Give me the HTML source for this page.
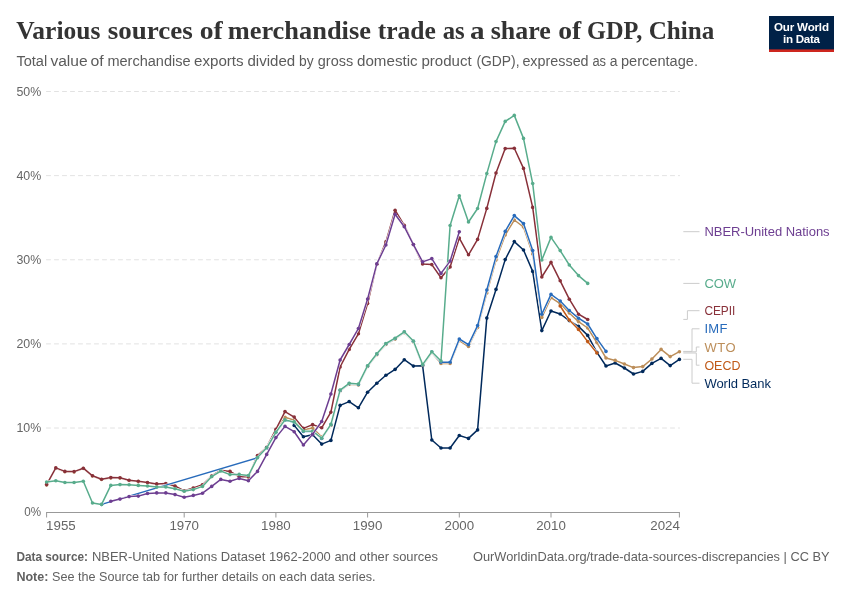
<!DOCTYPE html>
<html><head><meta charset="utf-8"><title>Various sources of merchandise trade as a share of GDP, China</title>
<style>
html,body{margin:0;padding:0;background:#fff;}
svg{display:block;font-family:"Liberation Sans",sans-serif;}
.title{font-family:"Liberation Serif",serif;font-weight:bold;font-size:25px;fill:#333;}
.sub{font-size:14px;fill:#5b5b5b;}
.ax text{font-size:13.2px;fill:#666;}
.foot{font-size:13px;fill:#616161;}
.foot .b{font-weight:bold;}
.leg text{font-size:13px;}
</style></head><body>
<svg width="850" height="600" viewBox="0 0 850 600">
<rect width="850" height="600" fill="#fff"/>
<text class="title" y="39.3"><tspan x="16.3" textLength="84.0" lengthAdjust="spacingAndGlyphs">Various</tspan> <tspan x="107.7" textLength="85.0" lengthAdjust="spacingAndGlyphs">sources</tspan> <tspan x="199.7" textLength="23.0" lengthAdjust="spacingAndGlyphs">of</tspan> <tspan x="227.7" textLength="143.2" lengthAdjust="spacingAndGlyphs">merchandise</tspan> <tspan x="377.7" textLength="58.2" lengthAdjust="spacingAndGlyphs">trade</tspan> <tspan x="442.7" textLength="22.0" lengthAdjust="spacingAndGlyphs">as</tspan> <tspan x="470.1" textLength="14.6" lengthAdjust="spacingAndGlyphs">a</tspan> <tspan x="490.7" textLength="60.0" lengthAdjust="spacingAndGlyphs">share</tspan> <tspan x="558.3" textLength="23.0" lengthAdjust="spacingAndGlyphs">of</tspan> <tspan x="587.1" textLength="55.2" lengthAdjust="spacingAndGlyphs">GDP,</tspan> <tspan x="648.7" textLength="65.6" lengthAdjust="spacingAndGlyphs">China</tspan></text>
<text class="sub" y="65.7"><tspan x="16.4" textLength="30.8" lengthAdjust="spacingAndGlyphs">Total</tspan> <tspan x="50.4" textLength="37.2" lengthAdjust="spacingAndGlyphs">value</tspan> <tspan x="90.4" textLength="13.2" lengthAdjust="spacingAndGlyphs">of</tspan> <tspan x="107.4" textLength="83.2" lengthAdjust="spacingAndGlyphs">merchandise</tspan> <tspan x="194.0" textLength="49.6" lengthAdjust="spacingAndGlyphs">exports</tspan> <tspan x="247.4" textLength="47.8" lengthAdjust="spacingAndGlyphs">divided</tspan> <tspan x="299.0" textLength="14.6" lengthAdjust="spacingAndGlyphs">by</tspan> <tspan x="317.8" textLength="35.4" lengthAdjust="spacingAndGlyphs">gross</tspan> <tspan x="357.0" textLength="60.6" lengthAdjust="spacingAndGlyphs">domestic</tspan> <tspan x="421.4" textLength="50.2" lengthAdjust="spacingAndGlyphs">product</tspan> <tspan x="476.4" textLength="43.2" lengthAdjust="spacingAndGlyphs">(GDP),</tspan> <tspan x="522.4" textLength="66.2" lengthAdjust="spacingAndGlyphs">expressed</tspan> <tspan x="592.4" textLength="13.6" lengthAdjust="spacingAndGlyphs">as</tspan> <tspan x="609.8" textLength="7.8" lengthAdjust="spacingAndGlyphs">a</tspan> <tspan x="621.0" textLength="77.0" lengthAdjust="spacingAndGlyphs">percentage.</tspan></text>
<g id="logo"><rect x="769" y="16" width="65" height="36" fill="#002147"/><rect x="769" y="49.4" width="65" height="2.6" fill="#ce261e"/>
<text x="801.5" y="30.6" text-anchor="middle" font-size="11.6" font-weight="bold" fill="#fff" textLength="55" lengthAdjust="spacing">Our World</text>
<text x="801.5" y="42.7" text-anchor="middle" font-size="11.6" font-weight="bold" fill="#fff" textLength="37" lengthAdjust="spacing">in Data</text></g>
<g stroke="#dfdfdf" stroke-width="0.9" stroke-dasharray="4.8,3.2" fill="none"><line x1="46.1" x2="679.9" y1="428.00" y2="428.00"/><line x1="46.1" x2="679.9" y1="343.87" y2="343.87"/><line x1="46.1" x2="679.9" y1="259.75" y2="259.75"/><line x1="46.1" x2="679.9" y1="175.62" y2="175.62"/><line x1="46.1" x2="679.9" y1="91.50" y2="91.50"/></g>
<g stroke="#999" stroke-width="1" fill="none"><line x1="46.1" x2="679.9" y1="512.5" y2="512.5"/><line x1="46.6" x2="46.6" y1="512.5" y2="517.5"/><line x1="184.2" x2="184.2" y1="512.5" y2="517.5"/><line x1="275.9" x2="275.9" y1="512.5" y2="517.5"/><line x1="367.6" x2="367.6" y1="512.5" y2="517.5"/><line x1="459.3" x2="459.3" y1="512.5" y2="517.5"/><line x1="551.0" x2="551.0" y1="512.5" y2="517.5"/><line x1="679.4" x2="679.4" y1="512.5" y2="517.5"/></g>
<g class="ax"><text x="24.2" y="516.4" textLength="16.8" lengthAdjust="spacingAndGlyphs">0%</text><text x="16.4" y="432.3" textLength="24.8" lengthAdjust="spacingAndGlyphs">10%</text><text x="16.4" y="348.2" textLength="24.8" lengthAdjust="spacingAndGlyphs">20%</text><text x="16.4" y="264.0" textLength="24.8" lengthAdjust="spacingAndGlyphs">30%</text><text x="16.4" y="179.9" textLength="24.8" lengthAdjust="spacingAndGlyphs">40%</text><text x="16.4" y="95.8" textLength="24.8" lengthAdjust="spacingAndGlyphs">50%</text><text x="46.1" y="530.4" text-anchor="start" textLength="29.6" lengthAdjust="spacingAndGlyphs">1955</text><text x="184.2" y="530.4" text-anchor="middle" textLength="29.6" lengthAdjust="spacingAndGlyphs">1970</text><text x="275.9" y="530.4" text-anchor="middle" textLength="29.6" lengthAdjust="spacingAndGlyphs">1980</text><text x="367.6" y="530.4" text-anchor="middle" textLength="29.6" lengthAdjust="spacingAndGlyphs">1990</text><text x="459.3" y="530.4" text-anchor="middle" textLength="29.6" lengthAdjust="spacingAndGlyphs">2000</text><text x="551.0" y="530.4" text-anchor="middle" textLength="29.6" lengthAdjust="spacingAndGlyphs">2010</text><text x="679.9" y="530.4" text-anchor="end" textLength="29.6" lengthAdjust="spacingAndGlyphs">2024</text></g>
<g id="lines">
<g fill="#00295B" stroke="none"><polyline fill="none" stroke="#fff" stroke-width="2.5" stroke-linejoin="round" stroke-linecap="round" points="294.2,425.4 303.4,436.8 312.6,434.8 321.7,444.1 330.9,440.4 340.1,405.4 349.2,401.6 358.4,407.8 367.6,392.2 376.8,383.2 385.9,375.3 395.1,369.4 404.3,359.7 413.4,366.1 422.6,365.7 431.8,440.0 441.0,448.0 450.1,448.0 459.3,435.5 468.5,438.4 477.6,429.9 486.8,318.1 496.0,289.4 505.2,259.6 514.3,241.6 523.5,250.0 532.7,271.4 541.8,330.6 551.0,311.0 560.2,314.0 569.3,320.6 578.5,326.4 587.7,335.4 596.9,352.4 606.0,366.0 615.2,363.0 624.4,368.0 633.5,374.0 642.7,371.4 651.9,363.4 661.1,358.4 670.2,365.6 679.4,359.4"/><polyline fill="none" stroke="#00295B" stroke-width="1.5" stroke-linejoin="round" stroke-linecap="round" points="294.2,425.4 303.4,436.8 312.6,434.8 321.7,444.1 330.9,440.4 340.1,405.4 349.2,401.6 358.4,407.8 367.6,392.2 376.8,383.2 385.9,375.3 395.1,369.4 404.3,359.7 413.4,366.1 422.6,365.7 431.8,440.0 441.0,448.0 450.1,448.0 459.3,435.5 468.5,438.4 477.6,429.9 486.8,318.1 496.0,289.4 505.2,259.6 514.3,241.6 523.5,250.0 532.7,271.4 541.8,330.6 551.0,311.0 560.2,314.0 569.3,320.6 578.5,326.4 587.7,335.4 596.9,352.4 606.0,366.0 615.2,363.0 624.4,368.0 633.5,374.0 642.7,371.4 651.9,363.4 661.1,358.4 670.2,365.6 679.4,359.4"/>
<circle cx="294.2" cy="425.4" r="1.8"/><circle cx="303.4" cy="436.8" r="1.8"/><circle cx="312.6" cy="434.8" r="1.8"/><circle cx="321.7" cy="444.1" r="1.8"/><circle cx="330.9" cy="440.4" r="1.8"/><circle cx="340.1" cy="405.4" r="1.8"/><circle cx="349.2" cy="401.6" r="1.8"/><circle cx="358.4" cy="407.8" r="1.8"/><circle cx="367.6" cy="392.2" r="1.8"/><circle cx="376.8" cy="383.2" r="1.8"/><circle cx="385.9" cy="375.3" r="1.8"/><circle cx="395.1" cy="369.4" r="1.8"/><circle cx="404.3" cy="359.7" r="1.8"/><circle cx="413.4" cy="366.1" r="1.8"/><circle cx="422.6" cy="365.7" r="1.8"/><circle cx="431.8" cy="440.0" r="1.8"/><circle cx="441.0" cy="448.0" r="1.8"/><circle cx="450.1" cy="448.0" r="1.8"/><circle cx="459.3" cy="435.5" r="1.8"/><circle cx="468.5" cy="438.4" r="1.8"/><circle cx="477.6" cy="429.9" r="1.8"/><circle cx="486.8" cy="318.1" r="1.8"/><circle cx="496.0" cy="289.4" r="1.8"/><circle cx="505.2" cy="259.6" r="1.8"/><circle cx="514.3" cy="241.6" r="1.8"/><circle cx="523.5" cy="250.0" r="1.8"/><circle cx="532.7" cy="271.4" r="1.8"/><circle cx="541.8" cy="330.6" r="1.8"/><circle cx="551.0" cy="311.0" r="1.8"/><circle cx="560.2" cy="314.0" r="1.8"/><circle cx="569.3" cy="320.6" r="1.8"/><circle cx="578.5" cy="326.4" r="1.8"/><circle cx="587.7" cy="335.4" r="1.8"/><circle cx="596.9" cy="352.4" r="1.8"/><circle cx="606.0" cy="366.0" r="1.8"/><circle cx="615.2" cy="363.0" r="1.8"/><circle cx="624.4" cy="368.0" r="1.8"/><circle cx="633.5" cy="374.0" r="1.8"/><circle cx="642.7" cy="371.4" r="1.8"/><circle cx="651.9" cy="363.4" r="1.8"/><circle cx="661.1" cy="358.4" r="1.8"/><circle cx="670.2" cy="365.6" r="1.8"/><circle cx="679.4" cy="359.4" r="1.8"/></g>
<g fill="#BC8E5A" stroke="none"><polyline fill="none" stroke="#fff" stroke-width="2.5" stroke-linejoin="round" stroke-linecap="round" points="46.6,484.9 55.8,468.2 64.9,471.7 74.1,471.9 83.3,468.5 92.5,476.1 101.6,479.5 110.8,477.9 120.0,478.1 129.1,480.5 138.3,481.6 147.5,482.8 156.7,484.2 165.8,483.9 175.0,486.3 184.2,491.1 193.3,488.3 202.5,485.1 211.7,476.3 220.8,470.5 230.0,471.7 239.2,477.0 248.4,477.1 257.5,456.8 266.7,447.5 275.9,431.0 285.0,417.3 294.2,420.2 303.4,429.8 312.6,427.9 321.7,437.0 330.9,425.4 340.1,391.0 349.2,384.2 358.4,385.0 367.6,366.6 376.8,354.7 385.9,344.4 395.1,339.1 404.3,332.7 413.4,341.9 422.6,365.5 431.8,352.7 441.0,363.4 450.1,363.4 459.3,340.5 468.5,346.5 477.6,327.5 486.8,293.0 496.0,260.0 505.2,235.0 514.3,220.0 523.5,227.0 532.7,254.0 541.8,317.4 551.0,297.6 560.2,303.6 569.3,313.0 578.5,321.6 587.7,328.0 596.9,342.6 606.0,358.0 615.2,360.4 624.4,364.0 633.5,367.6 642.7,366.6 651.9,359.0 661.1,349.4 670.2,356.6 679.4,351.7"/><polyline fill="none" stroke="#BC8E5A" stroke-width="1.5" stroke-linejoin="round" stroke-linecap="round" points="46.6,484.9 55.8,468.2 64.9,471.7 74.1,471.9 83.3,468.5 92.5,476.1 101.6,479.5 110.8,477.9 120.0,478.1 129.1,480.5 138.3,481.6 147.5,482.8 156.7,484.2 165.8,483.9 175.0,486.3 184.2,491.1 193.3,488.3 202.5,485.1 211.7,476.3 220.8,470.5 230.0,471.7 239.2,477.0 248.4,477.1 257.5,456.8 266.7,447.5 275.9,431.0 285.0,417.3 294.2,420.2 303.4,429.8 312.6,427.9 321.7,437.0 330.9,425.4 340.1,391.0 349.2,384.2 358.4,385.0 367.6,366.6 376.8,354.7 385.9,344.4 395.1,339.1 404.3,332.7 413.4,341.9 422.6,365.5 431.8,352.7 441.0,363.4 450.1,363.4 459.3,340.5 468.5,346.5 477.6,327.5 486.8,293.0 496.0,260.0 505.2,235.0 514.3,220.0 523.5,227.0 532.7,254.0 541.8,317.4 551.0,297.6 560.2,303.6 569.3,313.0 578.5,321.6 587.7,328.0 596.9,342.6 606.0,358.0 615.2,360.4 624.4,364.0 633.5,367.6 642.7,366.6 651.9,359.0 661.1,349.4 670.2,356.6 679.4,351.7"/>
<circle cx="46.6" cy="484.9" r="1.8"/><circle cx="55.8" cy="468.2" r="1.8"/><circle cx="64.9" cy="471.7" r="1.8"/><circle cx="74.1" cy="471.9" r="1.8"/><circle cx="83.3" cy="468.5" r="1.8"/><circle cx="92.5" cy="476.1" r="1.8"/><circle cx="101.6" cy="479.5" r="1.8"/><circle cx="110.8" cy="477.9" r="1.8"/><circle cx="120.0" cy="478.1" r="1.8"/><circle cx="129.1" cy="480.5" r="1.8"/><circle cx="138.3" cy="481.6" r="1.8"/><circle cx="147.5" cy="482.8" r="1.8"/><circle cx="156.7" cy="484.2" r="1.8"/><circle cx="165.8" cy="483.9" r="1.8"/><circle cx="175.0" cy="486.3" r="1.8"/><circle cx="184.2" cy="491.1" r="1.8"/><circle cx="193.3" cy="488.3" r="1.8"/><circle cx="202.5" cy="485.1" r="1.8"/><circle cx="211.7" cy="476.3" r="1.8"/><circle cx="220.8" cy="470.5" r="1.8"/><circle cx="230.0" cy="471.7" r="1.8"/><circle cx="239.2" cy="477.0" r="1.8"/><circle cx="248.4" cy="477.1" r="1.8"/><circle cx="257.5" cy="456.8" r="1.8"/><circle cx="266.7" cy="447.5" r="1.8"/><circle cx="275.9" cy="431.0" r="1.8"/><circle cx="285.0" cy="417.3" r="1.8"/><circle cx="294.2" cy="420.2" r="1.8"/><circle cx="303.4" cy="429.8" r="1.8"/><circle cx="312.6" cy="427.9" r="1.8"/><circle cx="321.7" cy="437.0" r="1.8"/><circle cx="330.9" cy="425.4" r="1.8"/><circle cx="340.1" cy="391.0" r="1.8"/><circle cx="349.2" cy="384.2" r="1.8"/><circle cx="358.4" cy="385.0" r="1.8"/><circle cx="367.6" cy="366.6" r="1.8"/><circle cx="376.8" cy="354.7" r="1.8"/><circle cx="385.9" cy="344.4" r="1.8"/><circle cx="395.1" cy="339.1" r="1.8"/><circle cx="404.3" cy="332.7" r="1.8"/><circle cx="413.4" cy="341.9" r="1.8"/><circle cx="422.6" cy="365.5" r="1.8"/><circle cx="431.8" cy="352.7" r="1.8"/><circle cx="441.0" cy="363.4" r="1.8"/><circle cx="450.1" cy="363.4" r="1.8"/><circle cx="459.3" cy="340.5" r="1.8"/><circle cx="468.5" cy="346.5" r="1.8"/><circle cx="477.6" cy="327.5" r="1.8"/><circle cx="486.8" cy="293.0" r="1.8"/><circle cx="496.0" cy="260.0" r="1.8"/><circle cx="505.2" cy="235.0" r="1.8"/><circle cx="514.3" cy="220.0" r="1.8"/><circle cx="523.5" cy="227.0" r="1.8"/><circle cx="532.7" cy="254.0" r="1.8"/><circle cx="541.8" cy="317.4" r="1.8"/><circle cx="551.0" cy="297.6" r="1.8"/><circle cx="560.2" cy="303.6" r="1.8"/><circle cx="569.3" cy="313.0" r="1.8"/><circle cx="578.5" cy="321.6" r="1.8"/><circle cx="587.7" cy="328.0" r="1.8"/><circle cx="596.9" cy="342.6" r="1.8"/><circle cx="606.0" cy="358.0" r="1.8"/><circle cx="615.2" cy="360.4" r="1.8"/><circle cx="624.4" cy="364.0" r="1.8"/><circle cx="633.5" cy="367.6" r="1.8"/><circle cx="642.7" cy="366.6" r="1.8"/><circle cx="651.9" cy="359.0" r="1.8"/><circle cx="661.1" cy="349.4" r="1.8"/><circle cx="670.2" cy="356.6" r="1.8"/><circle cx="679.4" cy="351.7" r="1.8"/></g>
<g fill="#C05917" stroke="none"><polyline fill="none" stroke="#fff" stroke-width="2.5" stroke-linejoin="round" stroke-linecap="round" points="560.2,306.0 569.3,320.0 578.5,329.4 587.7,341.6 596.9,353.0"/><polyline fill="none" stroke="#C05917" stroke-width="1.5" stroke-linejoin="round" stroke-linecap="round" points="560.2,306.0 569.3,320.0 578.5,329.4 587.7,341.6 596.9,353.0"/>
<circle cx="560.2" cy="306.0" r="1.8"/><circle cx="569.3" cy="320.0" r="1.8"/><circle cx="578.5" cy="329.4" r="1.8"/><circle cx="587.7" cy="341.6" r="1.8"/><circle cx="596.9" cy="353.0" r="1.8"/></g>
<g fill="#883039" stroke="none"><polyline fill="none" stroke="#fff" stroke-width="2.5" stroke-linejoin="round" stroke-linecap="round" points="46.6,484.6 55.8,467.9 64.9,471.4 74.1,471.6 83.3,468.2 92.5,475.8 101.6,479.2 110.8,477.6 120.0,477.8 129.1,480.2 138.3,481.3 147.5,482.5 156.7,483.9 165.8,483.6 175.0,486.0 184.2,490.8 193.3,488.0 202.5,484.8 211.7,476.0 220.8,470.2 230.0,471.4 239.2,476.7 248.4,476.8 257.5,455.5 266.7,447.2 275.9,429.4 285.0,411.6 294.2,417.1 303.4,428.4 312.6,424.6 321.7,427.8 330.9,412.2 340.1,367.0 349.2,349.4 358.4,333.8 367.6,303.5 376.8,264.3 385.9,241.9 395.1,210.2 404.3,225.4 413.4,244.6 422.6,263.9 431.8,264.6 441.0,277.7 450.1,267.0 459.3,238.1 468.5,254.8 477.6,239.4 486.8,208.4 496.0,173.0 505.2,148.6 514.3,148.2 523.5,168.4 532.7,207.4 541.8,277.0 551.0,262.4 560.2,280.8 569.3,299.2 578.5,314.2 587.7,319.5"/><polyline fill="none" stroke="#883039" stroke-width="1.5" stroke-linejoin="round" stroke-linecap="round" points="46.6,484.6 55.8,467.9 64.9,471.4 74.1,471.6 83.3,468.2 92.5,475.8 101.6,479.2 110.8,477.6 120.0,477.8 129.1,480.2 138.3,481.3 147.5,482.5 156.7,483.9 165.8,483.6 175.0,486.0 184.2,490.8 193.3,488.0 202.5,484.8 211.7,476.0 220.8,470.2 230.0,471.4 239.2,476.7 248.4,476.8 257.5,455.5 266.7,447.2 275.9,429.4 285.0,411.6 294.2,417.1 303.4,428.4 312.6,424.6 321.7,427.8 330.9,412.2 340.1,367.0 349.2,349.4 358.4,333.8 367.6,303.5 376.8,264.3 385.9,241.9 395.1,210.2 404.3,225.4 413.4,244.6 422.6,263.9 431.8,264.6 441.0,277.7 450.1,267.0 459.3,238.1 468.5,254.8 477.6,239.4 486.8,208.4 496.0,173.0 505.2,148.6 514.3,148.2 523.5,168.4 532.7,207.4 541.8,277.0 551.0,262.4 560.2,280.8 569.3,299.2 578.5,314.2 587.7,319.5"/>
<circle cx="46.6" cy="484.6" r="1.8"/><circle cx="55.8" cy="467.9" r="1.8"/><circle cx="64.9" cy="471.4" r="1.8"/><circle cx="74.1" cy="471.6" r="1.8"/><circle cx="83.3" cy="468.2" r="1.8"/><circle cx="92.5" cy="475.8" r="1.8"/><circle cx="101.6" cy="479.2" r="1.8"/><circle cx="110.8" cy="477.6" r="1.8"/><circle cx="120.0" cy="477.8" r="1.8"/><circle cx="129.1" cy="480.2" r="1.8"/><circle cx="138.3" cy="481.3" r="1.8"/><circle cx="147.5" cy="482.5" r="1.8"/><circle cx="156.7" cy="483.9" r="1.8"/><circle cx="165.8" cy="483.6" r="1.8"/><circle cx="175.0" cy="486.0" r="1.8"/><circle cx="184.2" cy="490.8" r="1.8"/><circle cx="193.3" cy="488.0" r="1.8"/><circle cx="202.5" cy="484.8" r="1.8"/><circle cx="211.7" cy="476.0" r="1.8"/><circle cx="220.8" cy="470.2" r="1.8"/><circle cx="230.0" cy="471.4" r="1.8"/><circle cx="239.2" cy="476.7" r="1.8"/><circle cx="248.4" cy="476.8" r="1.8"/><circle cx="257.5" cy="455.5" r="1.8"/><circle cx="266.7" cy="447.2" r="1.8"/><circle cx="275.9" cy="429.4" r="1.8"/><circle cx="285.0" cy="411.6" r="1.8"/><circle cx="294.2" cy="417.1" r="1.8"/><circle cx="303.4" cy="428.4" r="1.8"/><circle cx="312.6" cy="424.6" r="1.8"/><circle cx="321.7" cy="427.8" r="1.8"/><circle cx="330.9" cy="412.2" r="1.8"/><circle cx="340.1" cy="367.0" r="1.8"/><circle cx="349.2" cy="349.4" r="1.8"/><circle cx="358.4" cy="333.8" r="1.8"/><circle cx="367.6" cy="303.5" r="1.8"/><circle cx="376.8" cy="264.3" r="1.8"/><circle cx="385.9" cy="241.9" r="1.8"/><circle cx="395.1" cy="210.2" r="1.8"/><circle cx="404.3" cy="225.4" r="1.8"/><circle cx="413.4" cy="244.6" r="1.8"/><circle cx="422.6" cy="263.9" r="1.8"/><circle cx="431.8" cy="264.6" r="1.8"/><circle cx="441.0" cy="277.7" r="1.8"/><circle cx="450.1" cy="267.0" r="1.8"/><circle cx="459.3" cy="238.1" r="1.8"/><circle cx="468.5" cy="254.8" r="1.8"/><circle cx="477.6" cy="239.4" r="1.8"/><circle cx="486.8" cy="208.4" r="1.8"/><circle cx="496.0" cy="173.0" r="1.8"/><circle cx="505.2" cy="148.6" r="1.8"/><circle cx="514.3" cy="148.2" r="1.8"/><circle cx="523.5" cy="168.4" r="1.8"/><circle cx="532.7" cy="207.4" r="1.8"/><circle cx="541.8" cy="277.0" r="1.8"/><circle cx="551.0" cy="262.4" r="1.8"/><circle cx="560.2" cy="280.8" r="1.8"/><circle cx="569.3" cy="299.2" r="1.8"/><circle cx="578.5" cy="314.2" r="1.8"/><circle cx="587.7" cy="319.5" r="1.8"/></g>
<g fill="#286BBB" stroke="none"><polyline fill="none" stroke="#fff" stroke-width="2.5" stroke-linejoin="round" stroke-linecap="round" points="101.6,504.4 257.5,457.8 266.7,448.1 275.9,432.6 285.0,420.2 294.2,422.2 303.4,431.4 312.6,431.5 321.7,438.5 330.9,424.7 340.1,390.4 349.2,383.6 358.4,384.4 367.6,366.0 376.8,354.1 385.9,343.8 395.1,338.5 404.3,332.1 413.4,341.3 422.6,364.9 431.8,352.1 441.0,362.2 450.1,362.2 459.3,339.0 468.5,344.6 477.6,325.6 486.8,290.0 496.0,256.6 505.2,231.4 514.3,215.6 523.5,223.6 532.7,250.6 541.8,314.2 551.0,294.4 560.2,301.0 569.3,310.5 578.5,318.2 587.7,324.0 596.9,338.6 606.0,351.4"/><polyline fill="none" stroke="#286BBB" stroke-width="1.5" stroke-linejoin="round" stroke-linecap="round" points="101.6,504.4 257.5,457.8 266.7,448.1 275.9,432.6 285.0,420.2 294.2,422.2 303.4,431.4 312.6,431.5 321.7,438.5 330.9,424.7 340.1,390.4 349.2,383.6 358.4,384.4 367.6,366.0 376.8,354.1 385.9,343.8 395.1,338.5 404.3,332.1 413.4,341.3 422.6,364.9 431.8,352.1 441.0,362.2 450.1,362.2 459.3,339.0 468.5,344.6 477.6,325.6 486.8,290.0 496.0,256.6 505.2,231.4 514.3,215.6 523.5,223.6 532.7,250.6 541.8,314.2 551.0,294.4 560.2,301.0 569.3,310.5 578.5,318.2 587.7,324.0 596.9,338.6 606.0,351.4"/>
<circle cx="101.6" cy="504.4" r="1.8"/><circle cx="257.5" cy="457.8" r="1.8"/><circle cx="266.7" cy="448.1" r="1.8"/><circle cx="275.9" cy="432.6" r="1.8"/><circle cx="285.0" cy="420.2" r="1.8"/><circle cx="294.2" cy="422.2" r="1.8"/><circle cx="303.4" cy="431.4" r="1.8"/><circle cx="312.6" cy="431.5" r="1.8"/><circle cx="321.7" cy="438.5" r="1.8"/><circle cx="330.9" cy="424.7" r="1.8"/><circle cx="340.1" cy="390.4" r="1.8"/><circle cx="349.2" cy="383.6" r="1.8"/><circle cx="358.4" cy="384.4" r="1.8"/><circle cx="367.6" cy="366.0" r="1.8"/><circle cx="376.8" cy="354.1" r="1.8"/><circle cx="385.9" cy="343.8" r="1.8"/><circle cx="395.1" cy="338.5" r="1.8"/><circle cx="404.3" cy="332.1" r="1.8"/><circle cx="413.4" cy="341.3" r="1.8"/><circle cx="422.6" cy="364.9" r="1.8"/><circle cx="431.8" cy="352.1" r="1.8"/><circle cx="441.0" cy="362.2" r="1.8"/><circle cx="450.1" cy="362.2" r="1.8"/><circle cx="459.3" cy="339.0" r="1.8"/><circle cx="468.5" cy="344.6" r="1.8"/><circle cx="477.6" cy="325.6" r="1.8"/><circle cx="486.8" cy="290.0" r="1.8"/><circle cx="496.0" cy="256.6" r="1.8"/><circle cx="505.2" cy="231.4" r="1.8"/><circle cx="514.3" cy="215.6" r="1.8"/><circle cx="523.5" cy="223.6" r="1.8"/><circle cx="532.7" cy="250.6" r="1.8"/><circle cx="541.8" cy="314.2" r="1.8"/><circle cx="551.0" cy="294.4" r="1.8"/><circle cx="560.2" cy="301.0" r="1.8"/><circle cx="569.3" cy="310.5" r="1.8"/><circle cx="578.5" cy="318.2" r="1.8"/><circle cx="587.7" cy="324.0" r="1.8"/><circle cx="596.9" cy="338.6" r="1.8"/><circle cx="606.0" cy="351.4" r="1.8"/></g>
<g fill="#58AC8C" stroke="none"><polyline fill="none" stroke="#fff" stroke-width="2.5" stroke-linejoin="round" stroke-linecap="round" points="46.6,482.0 55.8,480.8 64.9,482.5 74.1,482.5 83.3,481.3 92.5,503.0 101.6,504.4 110.8,485.4 120.0,484.6 129.1,484.8 138.3,485.4 147.5,486.0 156.7,487.1 165.8,486.9 175.0,488.7 184.2,491.2 193.3,489.6 202.5,486.4 211.7,476.6 220.8,471.0 230.0,474.6 239.2,474.4 248.4,475.6 257.5,457.6 266.7,447.8 275.9,432.3 285.0,419.9 294.2,421.9 303.4,431.1 312.6,431.2 321.7,438.2 330.9,424.4 340.1,390.1 349.2,383.3 358.4,384.1 367.6,365.7 376.8,353.8 385.9,343.5 395.1,338.2 404.3,331.8 413.4,341.0 422.6,364.6 431.8,351.8 441.0,361.0 450.1,225.5 459.3,195.8 468.5,222.0 477.6,208.5 486.8,173.6 496.0,141.6 505.2,121.4 514.3,115.4 523.5,138.4 532.7,183.6 541.8,260.0 551.0,237.4 560.2,250.6 569.3,265.0 578.5,275.6 587.7,283.4"/><polyline fill="none" stroke="#58AC8C" stroke-width="1.5" stroke-linejoin="round" stroke-linecap="round" points="46.6,482.0 55.8,480.8 64.9,482.5 74.1,482.5 83.3,481.3 92.5,503.0 101.6,504.4 110.8,485.4 120.0,484.6 129.1,484.8 138.3,485.4 147.5,486.0 156.7,487.1 165.8,486.9 175.0,488.7 184.2,491.2 193.3,489.6 202.5,486.4 211.7,476.6 220.8,471.0 230.0,474.6 239.2,474.4 248.4,475.6 257.5,457.6 266.7,447.8 275.9,432.3 285.0,419.9 294.2,421.9 303.4,431.1 312.6,431.2 321.7,438.2 330.9,424.4 340.1,390.1 349.2,383.3 358.4,384.1 367.6,365.7 376.8,353.8 385.9,343.5 395.1,338.2 404.3,331.8 413.4,341.0 422.6,364.6 431.8,351.8 441.0,361.0 450.1,225.5 459.3,195.8 468.5,222.0 477.6,208.5 486.8,173.6 496.0,141.6 505.2,121.4 514.3,115.4 523.5,138.4 532.7,183.6 541.8,260.0 551.0,237.4 560.2,250.6 569.3,265.0 578.5,275.6 587.7,283.4"/>
<circle cx="46.6" cy="482.0" r="1.8"/><circle cx="55.8" cy="480.8" r="1.8"/><circle cx="64.9" cy="482.5" r="1.8"/><circle cx="74.1" cy="482.5" r="1.8"/><circle cx="83.3" cy="481.3" r="1.8"/><circle cx="92.5" cy="503.0" r="1.8"/><circle cx="101.6" cy="504.4" r="1.8"/><circle cx="110.8" cy="485.4" r="1.8"/><circle cx="120.0" cy="484.6" r="1.8"/><circle cx="129.1" cy="484.8" r="1.8"/><circle cx="138.3" cy="485.4" r="1.8"/><circle cx="147.5" cy="486.0" r="1.8"/><circle cx="156.7" cy="487.1" r="1.8"/><circle cx="165.8" cy="486.9" r="1.8"/><circle cx="175.0" cy="488.7" r="1.8"/><circle cx="184.2" cy="491.2" r="1.8"/><circle cx="193.3" cy="489.6" r="1.8"/><circle cx="202.5" cy="486.4" r="1.8"/><circle cx="211.7" cy="476.6" r="1.8"/><circle cx="220.8" cy="471.0" r="1.8"/><circle cx="230.0" cy="474.6" r="1.8"/><circle cx="239.2" cy="474.4" r="1.8"/><circle cx="248.4" cy="475.6" r="1.8"/><circle cx="257.5" cy="457.6" r="1.8"/><circle cx="266.7" cy="447.8" r="1.8"/><circle cx="275.9" cy="432.3" r="1.8"/><circle cx="285.0" cy="419.9" r="1.8"/><circle cx="294.2" cy="421.9" r="1.8"/><circle cx="303.4" cy="431.1" r="1.8"/><circle cx="312.6" cy="431.2" r="1.8"/><circle cx="321.7" cy="438.2" r="1.8"/><circle cx="330.9" cy="424.4" r="1.8"/><circle cx="340.1" cy="390.1" r="1.8"/><circle cx="349.2" cy="383.3" r="1.8"/><circle cx="358.4" cy="384.1" r="1.8"/><circle cx="367.6" cy="365.7" r="1.8"/><circle cx="376.8" cy="353.8" r="1.8"/><circle cx="385.9" cy="343.5" r="1.8"/><circle cx="395.1" cy="338.2" r="1.8"/><circle cx="404.3" cy="331.8" r="1.8"/><circle cx="413.4" cy="341.0" r="1.8"/><circle cx="422.6" cy="364.6" r="1.8"/><circle cx="431.8" cy="351.8" r="1.8"/><circle cx="441.0" cy="361.0" r="1.8"/><circle cx="450.1" cy="225.5" r="1.8"/><circle cx="459.3" cy="195.8" r="1.8"/><circle cx="468.5" cy="222.0" r="1.8"/><circle cx="477.6" cy="208.5" r="1.8"/><circle cx="486.8" cy="173.6" r="1.8"/><circle cx="496.0" cy="141.6" r="1.8"/><circle cx="505.2" cy="121.4" r="1.8"/><circle cx="514.3" cy="115.4" r="1.8"/><circle cx="523.5" cy="138.4" r="1.8"/><circle cx="532.7" cy="183.6" r="1.8"/><circle cx="541.8" cy="260.0" r="1.8"/><circle cx="551.0" cy="237.4" r="1.8"/><circle cx="560.2" cy="250.6" r="1.8"/><circle cx="569.3" cy="265.0" r="1.8"/><circle cx="578.5" cy="275.6" r="1.8"/><circle cx="587.7" cy="283.4" r="1.8"/></g>
<g fill="#6D3E91" stroke="none"><polyline fill="none" stroke="#fff" stroke-width="2.5" stroke-linejoin="round" stroke-linecap="round" points="110.8,501.2 120.0,499.1 129.1,496.6 138.3,496.1 147.5,493.5 156.7,492.9 165.8,492.9 175.0,494.6 184.2,497.2 193.3,495.4 202.5,493.2 211.7,486.4 220.8,479.4 230.0,481.2 239.2,478.4 248.4,480.8 257.5,471.4 266.7,454.4 275.9,437.6 285.0,426.4 294.2,431.7 303.4,445.0 312.6,434.3 321.7,421.5 330.9,394.0 340.1,360.0 349.2,344.5 358.4,328.5 367.6,299.0 376.8,263.9 385.9,245.0 395.1,214.2 404.3,226.7 413.4,244.6 422.6,261.9 431.8,258.6 441.0,273.4 450.1,261.1 459.3,231.7"/><polyline fill="none" stroke="#6D3E91" stroke-width="1.5" stroke-linejoin="round" stroke-linecap="round" points="110.8,501.2 120.0,499.1 129.1,496.6 138.3,496.1 147.5,493.5 156.7,492.9 165.8,492.9 175.0,494.6 184.2,497.2 193.3,495.4 202.5,493.2 211.7,486.4 220.8,479.4 230.0,481.2 239.2,478.4 248.4,480.8 257.5,471.4 266.7,454.4 275.9,437.6 285.0,426.4 294.2,431.7 303.4,445.0 312.6,434.3 321.7,421.5 330.9,394.0 340.1,360.0 349.2,344.5 358.4,328.5 367.6,299.0 376.8,263.9 385.9,245.0 395.1,214.2 404.3,226.7 413.4,244.6 422.6,261.9 431.8,258.6 441.0,273.4 450.1,261.1 459.3,231.7"/>
<circle cx="110.8" cy="501.2" r="1.8"/><circle cx="120.0" cy="499.1" r="1.8"/><circle cx="129.1" cy="496.6" r="1.8"/><circle cx="138.3" cy="496.1" r="1.8"/><circle cx="147.5" cy="493.5" r="1.8"/><circle cx="156.7" cy="492.9" r="1.8"/><circle cx="165.8" cy="492.9" r="1.8"/><circle cx="175.0" cy="494.6" r="1.8"/><circle cx="184.2" cy="497.2" r="1.8"/><circle cx="193.3" cy="495.4" r="1.8"/><circle cx="202.5" cy="493.2" r="1.8"/><circle cx="211.7" cy="486.4" r="1.8"/><circle cx="220.8" cy="479.4" r="1.8"/><circle cx="230.0" cy="481.2" r="1.8"/><circle cx="239.2" cy="478.4" r="1.8"/><circle cx="248.4" cy="480.8" r="1.8"/><circle cx="257.5" cy="471.4" r="1.8"/><circle cx="266.7" cy="454.4" r="1.8"/><circle cx="275.9" cy="437.6" r="1.8"/><circle cx="285.0" cy="426.4" r="1.8"/><circle cx="294.2" cy="431.7" r="1.8"/><circle cx="303.4" cy="445.0" r="1.8"/><circle cx="312.6" cy="434.3" r="1.8"/><circle cx="321.7" cy="421.5" r="1.8"/><circle cx="330.9" cy="394.0" r="1.8"/><circle cx="340.1" cy="360.0" r="1.8"/><circle cx="349.2" cy="344.5" r="1.8"/><circle cx="358.4" cy="328.5" r="1.8"/><circle cx="367.6" cy="299.0" r="1.8"/><circle cx="376.8" cy="263.9" r="1.8"/><circle cx="385.9" cy="245.0" r="1.8"/><circle cx="395.1" cy="214.2" r="1.8"/><circle cx="404.3" cy="226.7" r="1.8"/><circle cx="413.4" cy="244.6" r="1.8"/><circle cx="422.6" cy="261.9" r="1.8"/><circle cx="431.8" cy="258.6" r="1.8"/><circle cx="441.0" cy="273.4" r="1.8"/><circle cx="450.1" cy="261.1" r="1.8"/><circle cx="459.3" cy="231.7" r="1.8"/></g>
</g>
<g stroke="#ccc" stroke-width="1" fill="none">
<path d="M683.3 231.7H699.5"/>
<path d="M683.3 283.4H699.5"/>
<path d="M683.3 319.4H687.4V310.7H699.5"/>
<path d="M683.3 351.4H692V328.8H699.5"/>
<path d="M683.3 351.8H696.3V347H699.5"/>
<path d="M683.3 353H696.3V365.2H699.5"/>
<path d="M683.3 359.3H692V383.2H699.5"/>
</g>
<g class="leg">
<text x="704.4" y="236.4" fill="#6D3E91" textLength="125.2" lengthAdjust="spacing">NBER-United Nations</text>
<text x="704.4" y="288.4" fill="#58AC8C" textLength="31.6" lengthAdjust="spacing">COW</text>
<text x="704.4" y="314.9" fill="#883039" textLength="31" lengthAdjust="spacingAndGlyphs">CEPII</text>
<text x="704.4" y="333.4" fill="#286BBB" textLength="23" lengthAdjust="spacing">IMF</text>
<text x="704.4" y="351.7" fill="#BC8E5A" textLength="31.2" lengthAdjust="spacing">WTO</text>
<text x="704.4" y="370.4" fill="#C05917" textLength="36" lengthAdjust="spacingAndGlyphs">OECD</text>
<text x="704.4" y="388.1" fill="#00295B" textLength="66.6" lengthAdjust="spacing">World Bank</text>
</g>
<g class="foot">
<text y="560.7"><tspan class="b" x="16.4" textLength="71.6" lengthAdjust="spacingAndGlyphs">Data source:</tspan> <tspan x="92" textLength="346" lengthAdjust="spacingAndGlyphs">NBER-United Nations Dataset 1962-2000 and other sources</tspan></text>
<text y="580.9"><tspan class="b" x="16.4" textLength="32" lengthAdjust="spacingAndGlyphs">Note:</tspan> <tspan x="52" textLength="323.5" lengthAdjust="spacingAndGlyphs">See the Source tab for further details on each data series.</tspan></text>
<text x="473" y="560.7" textLength="356.5" lengthAdjust="spacingAndGlyphs">OurWorldinData.org/trade-data-sources-discrepancies | CC BY</text>
</g>
</svg>
</body></html>
